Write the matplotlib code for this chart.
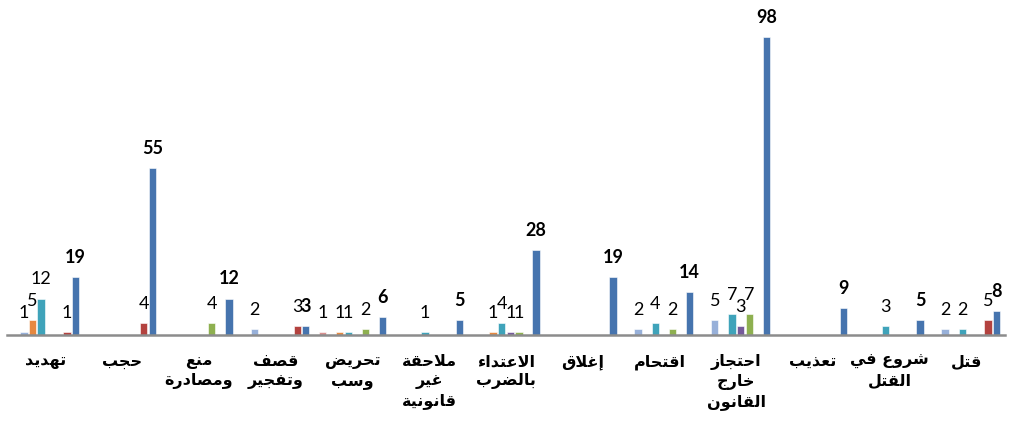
import numpy as np
import matplotlib
matplotlib.use("Agg")
import matplotlib.pyplot as plt

# categories, left to right as drawn
categories = ["تهديد", "حجب", "منع\nومصادرة", "قصف\nوتفجير", "تحريض\nوسب",
              "ملاحقة\nغير\nقانونية", "الاعتداء\nبالضرب", "إغلاق", "اقتحام",
              "احتجاز\nخارج\nالقانون", "تعذيب", "شروع في\nالقتل", "قتل"]

s_pink     = [0, 0, 0, 0, 1, 0, 0, 0, 0, 0, 0, 0, 0]
s_lavender = [1, 0, 0, 2, 0, 0, 0, 0, 2, 5, 0, 0, 2]
s_orange   = [5, 0, 0, 0, 1, 0, 1, 0, 0, 0, 0, 0, 0]
s_teal     = [12, 0, 0, 0, 1, 1, 4, 0, 4, 7, 0, 3, 2]
s_purple   = [0, 0, 0, 0, 0, 0, 1, 0, 0, 3, 0, 0, 0]
s_green    = [0, 0, 4, 0, 2, 0, 1, 0, 2, 7, 0, 0, 0]
s_red      = [1, 4, 0, 3, 0, 0, 0, 0, 0, 0, 0, 0, 5]
s_total    = [19, 55, 12, 3, 6, 5, 28, 19, 14, 98, 9, 5, 8]

series = [s_pink, s_lavender, s_orange, s_teal, s_purple, s_green, s_red, s_total]
colors = ["#D9908F", "#97B0D9", "#E6883F", "#3FA3BA", "#755A9A",
          "#8EB050", "#B3423F", "#4674AE"]

# --- tiny arabic shaper (matplotlib has no text shaping) ---
def _f(start, n):
    return tuple(chr(start + i) for i in range(n))

FORMS = {
    'ء': _f(0xFE80, 1), 'آ': _f(0xFE81, 2), 'أ': _f(0xFE83, 2), 'إ': _f(0xFE87, 2),
    'ا': _f(0xFE8D, 2), 'ب': _f(0xFE8F, 4), 'ة': _f(0xFE93, 2), 'ت': _f(0xFE95, 4),
    'ث': _f(0xFE99, 4), 'ج': _f(0xFE9D, 4), 'ح': _f(0xFEA1, 4), 'خ': _f(0xFEA5, 4),
    'د': _f(0xFEA9, 2), 'ذ': _f(0xFEAB, 2), 'ر': _f(0xFEAD, 2), 'ز': _f(0xFEAF, 2),
    'س': _f(0xFEB1, 4), 'ش': _f(0xFEB5, 4), 'ص': _f(0xFEB9, 4), 'ض': _f(0xFEBD, 4),
    'ط': _f(0xFEC1, 4), 'ظ': _f(0xFEC5, 4), 'ع': _f(0xFEC9, 4), 'غ': _f(0xFECD, 4),
    'ف': _f(0xFED1, 4), 'ق': _f(0xFED5, 4), 'ك': _f(0xFED9, 4), 'ل': _f(0xFEDD, 4),
    'م': _f(0xFEE1, 4), 'ن': _f(0xFEE5, 4), 'ه': _f(0xFEE9, 4), 'و': _f(0xFEED, 2),
    'ى': _f(0xFEEF, 2), 'ي': _f(0xFEF1, 4),
}
LAM_ALEF = {'آ': _f(0xFEF5, 2), 'أ': _f(0xFEF7, 2), 'إ': _f(0xFEF9, 2), 'ا': _f(0xFEFB, 2)}


def shape_line(s):
    units = []
    i = 0
    while i < len(s):
        c = s[i]
        if c == 'ل' and i + 1 < len(s) and s[i + 1] in LAM_ALEF:
            units.append(LAM_ALEF[s[i + 1]])
            i += 2
        else:
            units.append(FORMS.get(c, (c,)))
            i += 1
    out = []
    for k, fm in enumerate(units):
        prev = units[k - 1] if k > 0 else None
        nxt = units[k + 1] if k + 1 < len(units) else None
        jp = prev is not None and len(prev) == 4 and len(fm) >= 2
        jn = nxt is not None and len(fm) == 4 and len(nxt) >= 2
        if jp and jn:
            out.append(fm[3])
        elif jp:
            out.append(fm[1])
        elif jn:
            out.append(fm[2])
        else:
            out.append(fm[0])
    return "".join(out)[::-1]


def shape(label):
    return "\n".join(shape_line(l) for l in label.split("\n"))


fig = plt.figure(figsize=(10.12, 4.37), dpi=100, facecolor="w")
ax = fig.add_axes([7 / 1012, (437 - 335) / 437, 998 / 1012, 304 / 437])

x = np.arange(len(categories))
step = 0.112
width = 0.095
n = len(series)
for i, (vals, c) in enumerate(zip(series, colors)):
    vals = np.array(vals)
    pos = x + (i - (n - 1) / 2) * step
    m = vals > 0
    ax.bar(pos[m], vals[m], width=width, color=c, edgecolor="white",
           linewidth=0.4, zorder=2)
    bold = (i == n - 1)
    for px, v in zip(pos[m], vals[m]):
        ax.annotate(str(v), (px, v), xytext=(0, 8), textcoords="offset points",
                    ha="center", va="bottom", fontsize=13, family="Lato",
                    fontweight="bold" if bold else "normal", color="black",
                    annotation_clip=False)

ax.set_xlim(-0.5, len(categories) - 0.5)
ax.set_ylim(0, 100)
ax.set_yticks([])
for sp in ["top", "right", "left"]:
    ax.spines[sp].set_visible(False)
ax.spines["bottom"].set_color("#8C8C8C")
ax.spines["bottom"].set_linewidth(1.8)
ax.spines["bottom"].set_zorder(3)
ax.set_xticks(x)
ax.set_xticklabels([shape(c) for c in categories], fontsize=11.5,
                   fontweight="bold", family="DejaVu Sans", linespacing=1.32)
ax.tick_params(axis="x", length=0, pad=14)

fig.savefig("out.png", dpi=100, facecolor="w")
